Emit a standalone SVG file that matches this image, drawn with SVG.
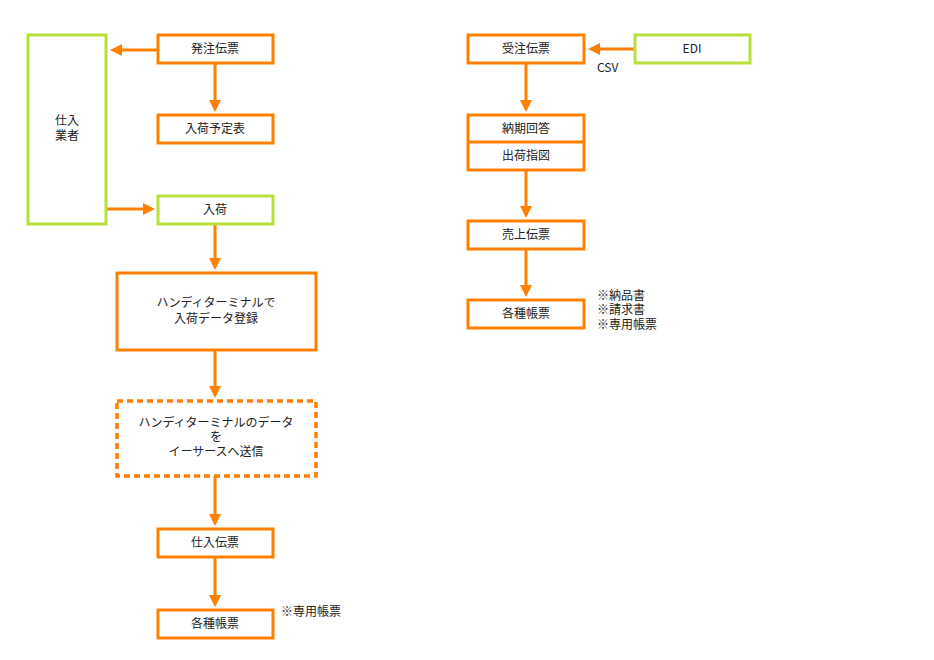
<svg xmlns="http://www.w3.org/2000/svg" width="934" height="660" viewBox="0 0 934 660">
<style>
.o{fill:#fff;stroke:#FF8000;stroke-width:3}
.g{fill:#fff;stroke:#B8E03C;stroke-width:3}
.d{fill:#fff;stroke:#FF8000;stroke-width:3.5;stroke-dasharray:6 4}
text{font-family:"Noto Sans CJK JP","Liberation Sans",sans-serif;font-size:12px;fill:#222;text-anchor:middle}
.l{text-anchor:start}
.c line{stroke:#FF8000;stroke-width:3}
</style>
<defs><marker id="a" markerWidth="4" markerHeight="4" refX="3" refY="2" orient="auto" markerUnits="strokeWidth"><path d="M0,0L4,2L0,4z" fill="#FF8000"/></marker></defs>
<rect width="934" height="660" fill="#fff"/>
<g class="c">
<line x1="158" y1="50" x2="113" y2="50" marker-end="url(#a)"/>
<line x1="215" y1="63" x2="215" y2="109" marker-end="url(#a)"/>
<line x1="106" y1="209" x2="152" y2="209" marker-end="url(#a)"/>
<line x1="215" y1="224" x2="215" y2="267" marker-end="url(#a)"/>
<line x1="215" y1="350" x2="215" y2="395" marker-end="url(#a)"/>
<line x1="215" y1="476" x2="215" y2="523" marker-end="url(#a)"/>
<line x1="215" y1="557" x2="215" y2="604" marker-end="url(#a)"/>
<line x1="635" y1="49" x2="591" y2="49" marker-end="url(#a)"/>
<line x1="526" y1="63" x2="526" y2="109" marker-end="url(#a)"/>
<line x1="526" y1="170" x2="526" y2="215" marker-end="url(#a)"/>
<line x1="526" y1="249" x2="526" y2="294" marker-end="url(#a)"/>
</g>
<g id="shiire"><rect class="g" x="28" y="35" width="78" height="189"/><text x="67" y="125">仕入</text><text x="67" y="140">業者</text></g>
<g id="hatchu"><rect class="o" x="158" y="35" width="115" height="28"/><text x="215" y="53">発注伝票</text></g>
<g id="yotei"><rect class="o" x="158" y="115" width="115" height="28"/><text x="215" y="133">入荷予定表</text></g>
<g id="nyuka"><rect class="g" x="158" y="196" width="115" height="28"/><text x="215" y="214">入荷</text></g>
<g id="handy"><rect class="o" x="117" y="273" width="199" height="77"/><text x="216" y="307">ハンディターミナルで</text><text x="216" y="323">入荷データ登録</text></g>
<g id="send"><rect class="d" x="117" y="401" width="199" height="75"/><text x="216" y="427">ハンディターミナルのデータ</text><text x="216" y="441">を</text><text x="216" y="456">イーサースへ送信</text></g>
<g id="shiireden"><rect class="o" x="158" y="529" width="115" height="28"/><text x="215" y="547">仕入伝票</text></g>
<g id="chohyo1"><rect class="o" x="158" y="610" width="115" height="28"/><text x="215" y="628">各種帳票</text><text class="l" x="281" y="616">※専用帳票</text></g>
<g id="juchu"><rect class="o" x="468" y="35" width="116" height="28"/><text x="526" y="53">受注伝票</text></g>
<g id="edi"><rect class="g" x="635" y="35" width="115" height="28"/><text x="692" y="53">EDI</text><text class="l" x="597" y="72">CSV</text></g>
<g id="noki"><rect class="o" x="468" y="115" width="116" height="55"/><line x1="468" y1="142" x2="584" y2="142" stroke="#FF8000" stroke-width="3"/><text x="526" y="133">納期回答</text><text x="526" y="160">出荷指図</text></g>
<g id="uriage"><rect class="o" x="468" y="221" width="116" height="28"/><text x="526" y="239">売上伝票</text></g>
<g id="chohyo2"><rect class="o" x="468" y="300" width="116" height="28"/><text x="526" y="318">各種帳票</text><text class="l" x="597" y="300">※納品書</text><text class="l" x="597" y="314">※請求書</text><text class="l" x="597" y="329">※専用帳票</text></g>
</svg>
